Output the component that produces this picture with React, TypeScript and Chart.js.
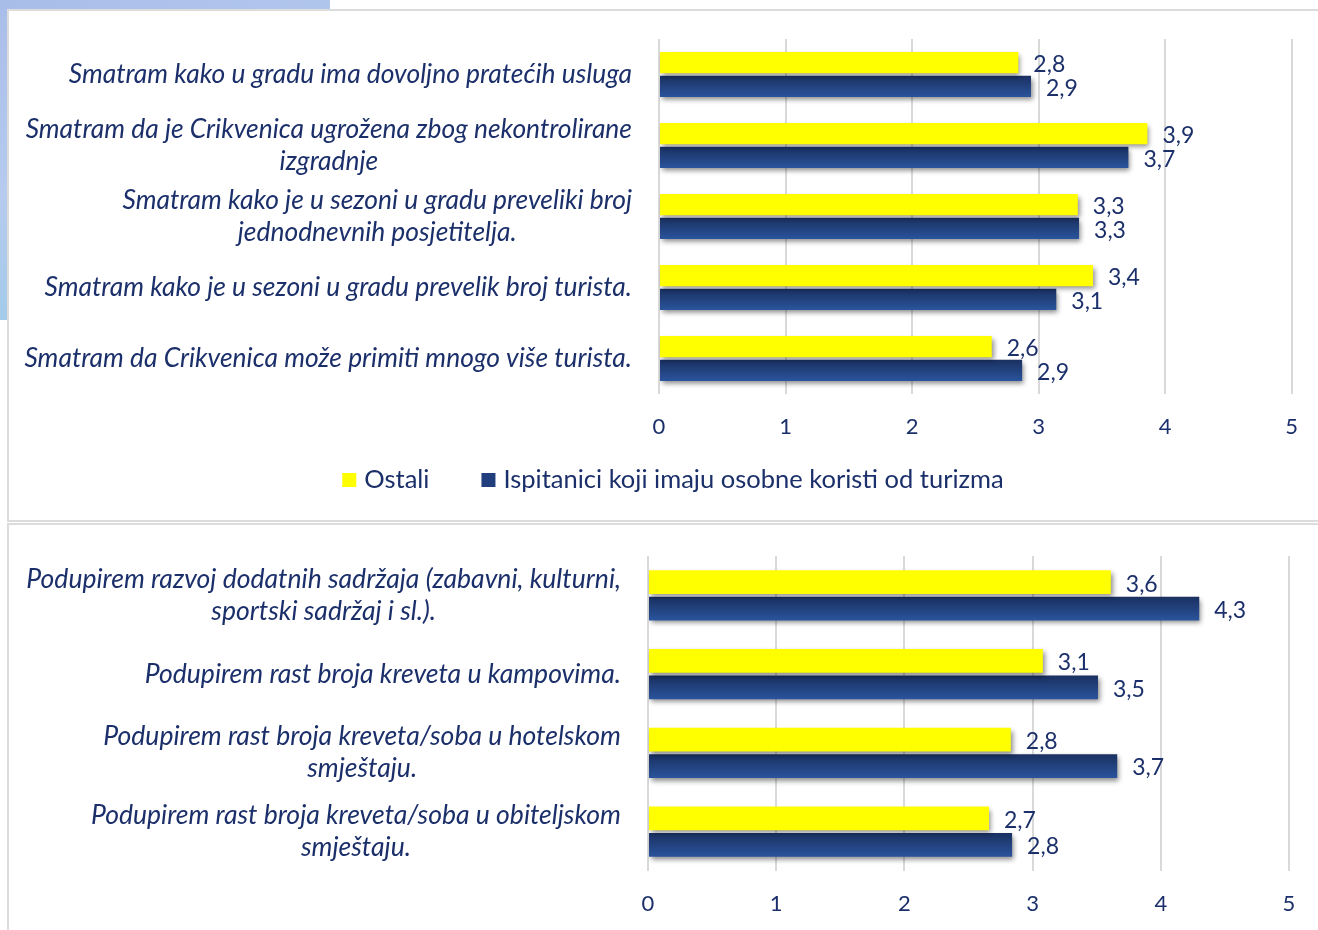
import React, { useEffect, useRef } from "react";
import { Chart, registerables } from "chart.js";

Chart.register(...registerables);

// ---------- DATA ----------
const topCategories: (string | string[])[] = [
  "Smatram kako u gradu ima dovoljno pratećih usluga",
  ["Smatram da je Crikvenica ugrožena zbog nekontrolirane", "izgradnje"],
  ["Smatram kako je u sezoni u gradu preveliki broj", "jednodnevnih posjetitelja."],
  "Smatram kako je u sezoni u gradu prevelik broj turista.",
  "Smatram da Crikvenica može primiti mnogo više turista.",
];
// bar lengths (labels show them rounded to one decimal)
const topOstali = [2.84, 3.86, 3.31, 3.43, 2.63];
const topKoristi = [2.94, 3.71, 3.32, 3.14, 2.87];

const bottomCategories: (string | string[])[] = [
  ["Podupirem razvoj dodatnih sadržaja (zabavni, kulturni,", "sportski sadržaj i sl.)."],
  "Podupirem rast broja kreveta u kampovima.",
  ["Podupirem rast broja kreveta/soba u hotelskom", "smještaju."],
  ["Podupirem rast broja kreveta/soba u obiteljskom", "smještaju."],
];
const bottomOstali = [3.61, 3.08, 2.83, 2.66];
const bottomKoristi = [4.3, 3.51, 3.66, 2.84];

const seriesNames = ["Ostali", "Ispitanici koji imaju osobne koristi od turizma"];
const xMin = 0;
const xMax = 5;
const xStep = 1;

// ---------- STYLE ----------
const NAVY = "#1b2f6a";
const YELLOW = "#ffff00";
const BLUE_TOP = "#1a3060";
const BLUE_BOTTOM = "#2a549c";
const GRID = "#d9d9d9";
const FONT = "Lato, 'Open Sans', sans-serif";
const CAT_PCT = 0.67;
const BAR_PCT = 0.9;

const shadowPlugin = {
  id: "barShadow",
  beforeDatasetsDraw(chart: any) {
    const ctx = chart.ctx;
    ctx.save();
    ctx.shadowColor = "rgba(0,0,0,0.45)";
    ctx.shadowBlur = 5;
    ctx.shadowOffsetX = 2;
    ctx.shadowOffsetY = 3;
  },
  afterDatasetsDraw(chart: any) {
    chart.ctx.restore();
  },
};

const categoryLabelPlugin = {
  id: "catLabels",
  afterDraw(chart: any, _args: any, opts: any) {
    const { ctx, chartArea } = chart;
    const yScale = chart.scales.y;
    ctx.save();
    const allLines: string[] = [];
    (chart.data.labels as any[]).forEach((lab) => {
      (Array.isArray(lab) ? lab : [lab]).forEach((l: string) => allLines.push(l));
    });
    // pick a font size so the widest line spans the target width
    ctx.font = `italic 20px ${FONT}`;
    const widest = Math.max(...allLines.map((l) => ctx.measureText(l).width));
    const size = (20 * opts.targetWidth) / widest;
    ctx.font = `italic ${size}px ${FONT}`;
    ctx.fillStyle = NAVY;
    ctx.textBaseline = "middle";
    ctx.textAlign = "center";
    (chart.data.labels as any[]).forEach((lab, i) => {
      const lines: string[] = Array.isArray(lab) ? lab : [lab];
      const w = Math.max(...lines.map((l) => ctx.measureText(l).width));
      const right = chartArea.left - opts.gap;
      const cx = right - w / 2;
      const cy = yScale.getPixelForValue(i);
      const n = lines.length;
      lines.forEach((l, j) => {
        ctx.fillText(l, cx, cy + (j - (n - 1) / 2) * opts.lineHeight);
      });
    });
    ctx.restore();
  },
};

const valueLabelPlugin = {
  id: "valueLabels",
  afterDraw(chart: any) {
    const ctx = chart.ctx;
    ctx.save();
    ctx.font = `23px ${FONT}`;
    ctx.fillStyle = NAVY;
    ctx.textAlign = "left";
    ctx.textBaseline = "middle";
    chart.data.datasets.forEach((ds: any, di: number) => {
      const meta = chart.getDatasetMeta(di);
      meta.data.forEach((bar: any, i: number) => {
        const v = ds.data[i] as number;
        ctx.fillText(v.toFixed(1).replace(".", ","), bar.x + 15, bar.y + 2);
      });
    });
    ctx.restore();
  },
};

const legendPlugin = {
  id: "customLegend",
  afterDraw(chart: any, _args: any, opts: any) {
    if (!opts.show) return;
    const { ctx, chartArea } = chart;
    ctx.save();
    ctx.font = `25.5px ${FONT}`;
    ctx.textBaseline = "middle";
    ctx.textAlign = "left";
    const box = 14;
    const gapText = 8;
    const gapItem = 52;
    const items = chart.data.datasets.map((ds: any) => ({
      text: ds.label as string,
      color: ds.legendColor as string,
      w: ctx.measureText(ds.label).width,
    }));
    const total =
      items.reduce((s: number, it: any) => s + box + gapText + it.w, 0) + gapItem * (items.length - 1);
    let x = opts.centerX - total / 2;
    const y = chartArea.bottom + opts.offsetY;
    items.forEach((it: any) => {
      ctx.fillStyle = it.color;
      ctx.fillRect(x, y - box / 2, box, box);
      ctx.fillStyle = NAVY;
      ctx.fillText(it.text, x + box + gapText, y);
      x += box + gapText + it.w + gapItem;
    });
    ctx.restore();
  },
};

function blueGradient(c: any) {
  const chart = c.chart;
  const yScale = chart.scales?.y;
  if (!chart.chartArea || !yScale) return BLUE_BOTTOM;
  const center = yScale.getPixelForValue(c.dataIndex);
  const n = chart.data.labels.length;
  const step = (chart.chartArea.bottom - chart.chartArea.top) / n;
  const catW = step * CAT_PCT;
  const barCenter = center + catW / 4;
  const h = (catW / 2) * BAR_PCT;
  const g = chart.ctx.createLinearGradient(0, barCenter - h / 2, 0, barCenter + h / 2);
  g.addColorStop(0, BLUE_TOP);
  g.addColorStop(1, BLUE_BOTTOM);
  return g;
}

type PanelProps = {
  labels: (string | string[])[];
  ostali: number[];
  koristi: number[];
  top: number;
  height: number;
  padding: { left: number; right: number; top: number; bottom: number };
  showLegend: boolean;
  labelWidth: number;
};

function BarChart({ labels, ostali, koristi, top, height, padding, showLegend, labelWidth }: PanelProps) {
  const ref = useRef<HTMLCanvasElement | null>(null);
  useEffect(() => {
    if (!ref.current) return;
    const chart = new Chart(ref.current, {
      type: "bar",
      data: {
        labels,
        datasets: [
          {
            label: seriesNames[0],
            data: ostali,
            backgroundColor: YELLOW,
            legendColor: YELLOW,
            categoryPercentage: CAT_PCT,
            barPercentage: BAR_PCT,
          } as any,
          {
            label: seriesNames[1],
            data: koristi,
            backgroundColor: blueGradient,
            legendColor: "#213f7d",
            categoryPercentage: CAT_PCT,
            barPercentage: BAR_PCT,
          } as any,
        ],
      },
      options: {
        indexAxis: "y",
        responsive: false,
        animation: false,
        layout: { padding },
        scales: {
          x: {
            min: xMin,
            max: xMax,
            afterFit: (scale: any) => {
              scale.height = 46;
            },
            ticks: {
              stepSize: xStep,
              color: NAVY,
              font: { family: FONT, size: 22 },
              padding: 20,
            },
            grid: { color: GRID, lineWidth: 2, drawTicks: false },
            border: { display: false },
          },
          y: {
            display: false,
          },
        },
        plugins: {
          legend: { display: false },
          tooltip: { enabled: false },
          catLabels: { targetWidth: labelWidth, gap: 27, lineHeight: 32 },
          customLegend: { show: showLegend, centerX: 673, offsetY: 86 },
        } as any,
      },
      plugins: [shadowPlugin, categoryLabelPlugin, valueLabelPlugin, legendPlugin],
    });
    return () => chart.destroy();
  }, []);
  return (
    <canvas
      ref={ref}
      width={1318}
      height={height}
      style={{ position: "absolute", left: 0, top, width: 1318, height }}
    />
  );
}

export default function App() {
  return (
    <div
      style={{
        position: "absolute",
        left: 0,
        top: 0,
        width: 1318,
        height: 930,
        overflow: "hidden",
        background: "#ffffff",
      }}
    >
      <div
        style={{
          position: "absolute",
          left: 0,
          top: 0,
          width: 330,
          height: 320,
          background: "linear-gradient(160deg, #a9bdea 0%, #b6cbee 45%, #9fcbe8 80%, #ffffff 100%)",
        }}
      />
      <div
        style={{
          position: "absolute",
          left: 7,
          top: 9,
          width: 1340,
          height: 509,
          border: "2px solid #dcdcdc",
          background: "#ffffff",
        }}
      />
      <div
        style={{
          position: "absolute",
          left: 7,
          top: 523,
          width: 1340,
          height: 420,
          border: "2px solid #dcdcdc",
          background: "#ffffff",
        }}
      />
      <BarChart
        labels={topCategories}
        ostali={topOstali}
        koristi={topKoristi}
        top={0}
        height={520}
        padding={{ left: 659, right: 24, top: 39, bottom: 80 }}
        showLegend={true}
        labelWidth={608}
      />
      <BarChart
        labels={bottomCategories}
        ostali={bottomOstali}
        koristi={bottomKoristi}
        top={524}
        height={406}
        padding={{ left: 648, right: 29, top: 32, bottom: 13 }}
        showLegend={false}
        labelWidth={595}
      />
    </div>
  );
}
